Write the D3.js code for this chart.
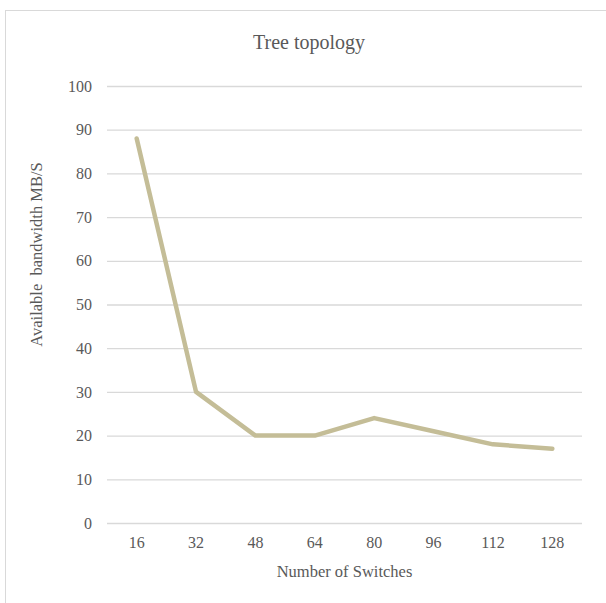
<!DOCTYPE html>
<html>
<head>
<meta charset="utf-8">
<script src="https://cdn.jsdelivr.net/npm/d3@7"></script>
<style>
  body { margin: 0; background: #fff; }
  text { font-family: "Liberation Serif", serif; fill: #595959; }
</style>
</head>
<body>
<div id="plot1"></div>
<script>
const switches = ['16', '32', '48', '64', '80', '96', '112', '128'];
const bandwidth = [88, 30, 20, 20, 24, 21, 18, 17];
const yTicks = [0, 10, 20, 30, 40, 50, 60, 70, 80, 90, 100];

const width = 606;
const height = 603;
const margin = {top: 86, bottom: 80, left: 107, right: 24};

var svg = d3.select('#plot1')
    .append('svg')
    .attr('width', width)
    .attr('height', height)
    .attr('viewBox', [0, 0, width, height]);

// chart border, runs off the right and bottom of the picture
svg.append('rect')
    .attr('x', 5.5)
    .attr('y', 10.5)
    .attr('width', 620)
    .attr('height', 620)
    .attr('fill', 'none')
    .attr('stroke', '#d9d9d9');

const x = d3.scaleBand()
    .domain(switches)
    .range([margin.left, width - margin.right]);

const y = d3.scaleLinear()
    .domain([0, 100])
    .range([height - margin.bottom, margin.top]);

function yAxis(g) {
    g.attr('transform', `translate(${margin.left},0)`)
        .call(d3.axisLeft(y).tickValues(yTicks).tickSize(-(width - margin.left - margin.right)).tickPadding(15))
        .call(g => g.select('.domain').remove())
        .call(g => g.selectAll('.tick line').attr('stroke', '#d9d9d9').attr('stroke-width', 1.3))
        .call(g => g.selectAll('.tick text').attr('font-size', '16px').attr('fill', '#595959'));
}

function xAxis(g) {
    g.attr('transform', `translate(0,${height - margin.bottom})`)
        .call(d3.axisBottom(x).tickSize(0).tickPadding(14))
        .call(g => g.select('.domain').remove())
        .call(g => g.selectAll('.tick text').attr('font-size', '16px').attr('fill', '#595959'));
}

svg.append('g').call(yAxis);
svg.append('g').call(xAxis);

const line = d3.line()
    .x((d, i) => x(switches[i]) + x.bandwidth() / 2)
    .y(d => y(d));

svg.append('path')
    .datum(bandwidth)
    .attr('fill', 'none')
    .attr('stroke', '#c4bd97')
    .attr('stroke-width', 4.5)
    .attr('stroke-linejoin', 'round')
    .attr('stroke-linecap', 'round')
    .attr('d', line);

svg.append('text')
    .attr('x', 309)
    .attr('y', 49)
    .attr('text-anchor', 'middle')
    .attr('font-size', '20px')
    .text('Tree topology');

svg.append('text')
    .attr('x', (margin.left + width - margin.right) / 2)
    .attr('y', 577)
    .attr('text-anchor', 'middle')
    .attr('font-size', '16.5px')
    .text('Number of Switches');

svg.append('text')
    .attr('transform', `translate(42,${(margin.top + height - margin.bottom) / 2 - 50}) rotate(-90)`)
    .attr('text-anchor', 'middle')
    .attr('font-size', '16.5px')
    .attr('xml:space', 'preserve')
    .text('Available  bandwidth MB/S');
</script>
</body>
</html>
